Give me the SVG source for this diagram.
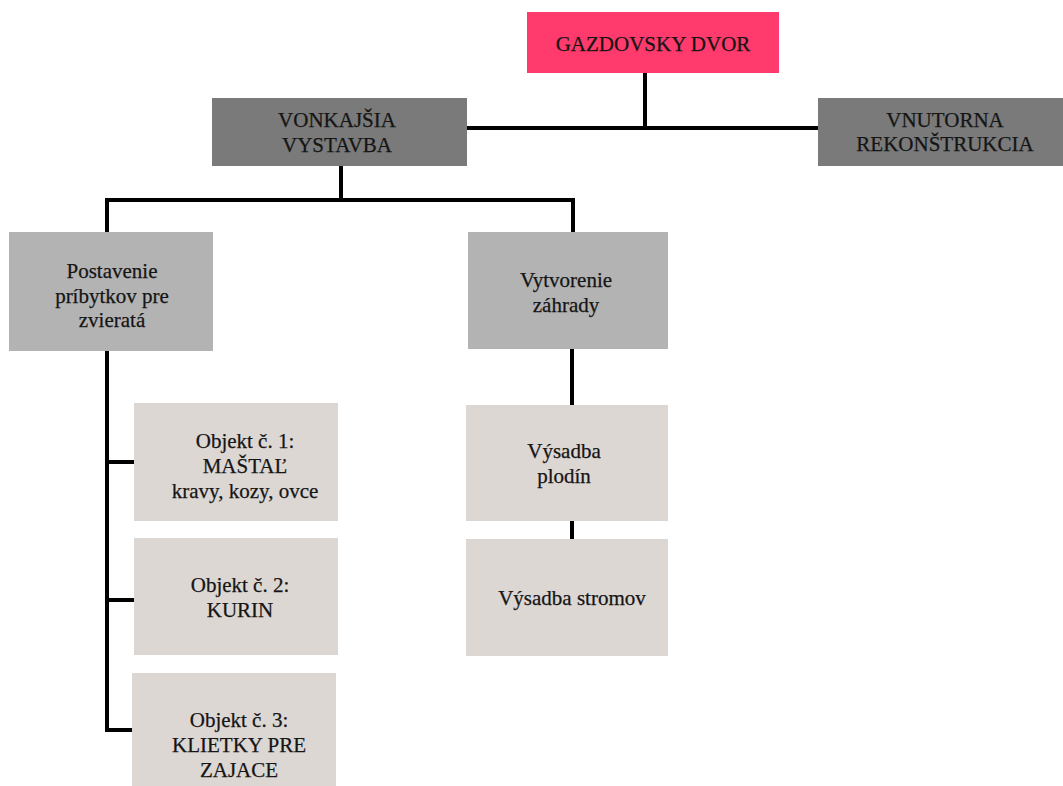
<svg xmlns="http://www.w3.org/2000/svg" width="1063" height="786" viewBox="0 0 1063 786">
<style>
text{font-family:"Liberation Serif","Times New Roman",serif;font-size:21px;fill:#151515;stroke:#151515;stroke-width:0.25;text-anchor:middle}
.c{fill:none;stroke:#000;stroke-width:4}
.pink{fill:#ff3a6c}
.dark{fill:#7a7a7a}
.mid{fill:#b3b3b3}
.light{fill:#ddd7d4}
</style>
<rect width="1063" height="786" fill="#fff"/>
<g id="connectors">
<path class="c" d="M645 73V128M467 128H818"/>
<path class="c" d="M341 166V200M105 200H575M107 200V233M573 200V233"/>
<path class="c" d="M107 351V730M105 462H134M105 600H134M105 730H132"/>
<path class="c" d="M572 349V405M572 521V539"/>
</g>
<g id="gazdovsky"><rect class="pink" x="527" y="12" width="252" height="61"/><text x="653" y="51">GAZDOVSKY DVOR</text></g>
<g id="vonkajsia"><rect class="dark" x="212" y="98" width="255" height="68"/><text x="337" y="127">VONKAJŠIA</text><text x="337" y="152">VYSTAVBA</text></g>
<g id="vnutorna"><rect class="dark" x="818" y="98" width="245" height="68"/><text x="945" y="127">VNUTORNA</text><text x="945" y="151">REKONŠTRUKCIA</text></g>
<g id="postavenie"><rect class="mid" x="9" y="232" width="204" height="119"/><text x="112" y="278">Postavenie</text><text x="112" y="303">príbytkov pre</text><text x="112" y="327">zvieratá</text></g>
<g id="vytvorenie"><rect class="mid" x="468" y="232" width="200" height="117"/><text x="566" y="287">Vytvorenie</text><text x="566" y="312">záhrady</text></g>
<g id="objekt1"><rect class="light" x="134" y="403" width="204" height="118"/><text x="245" y="448">Objekt č. 1:</text><text x="245" y="473">MAŠTAĽ</text><text x="245" y="498">kravy, kozy, ovce</text></g>
<g id="objekt2"><rect class="light" x="134" y="538" width="204" height="117"/><text x="240" y="592">Objekt č. 2:</text><text x="240" y="617">KURIN</text></g>
<g id="objekt3"><rect class="light" x="132" y="673" width="204" height="113"/><text x="239" y="727">Objekt č. 3:</text><text x="239" y="752">KLIETKY PRE</text><text x="239" y="777">ZAJACE</text></g>
<g id="plodin"><rect class="light" x="466" y="405" width="202" height="116"/><text x="564" y="458">Výsadba</text><text x="564" y="483">plodín</text></g>
<g id="stromov"><rect class="light" x="466" y="539" width="202" height="117"/><text x="572" y="605">Výsadba stromov</text></g>
</svg>
